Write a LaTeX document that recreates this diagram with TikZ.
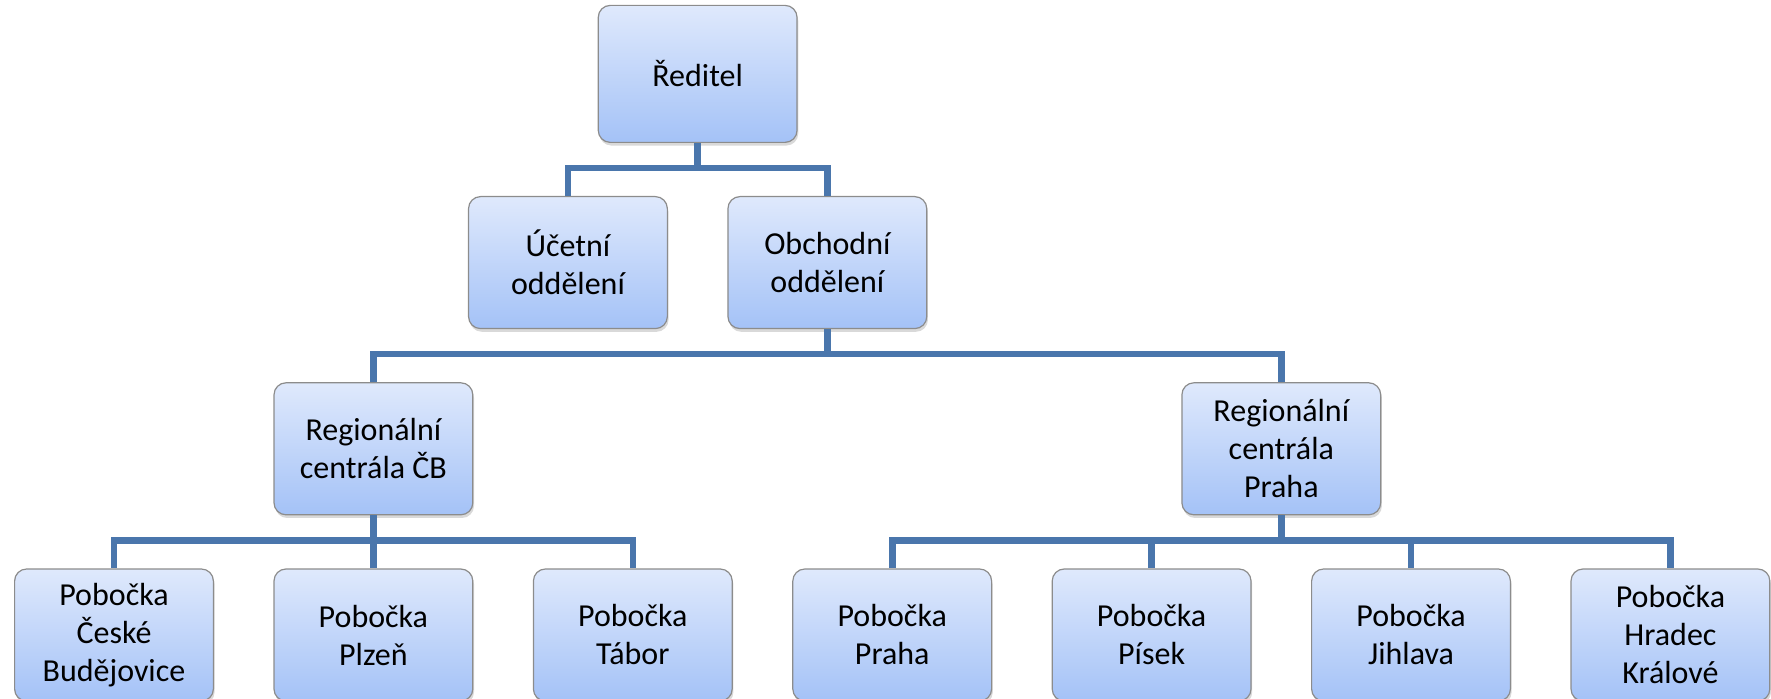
\documentclass[tikz,border=0pt]{standalone}
\usepackage{fontspec}
\setmainfont{Carlito}
\usetikzlibrary{positioning, shadows, calc}
\definecolor{linkblue}{HTML}{4A76AC}
\definecolor{boxtop}{HTML}{DFE9FC}
\definecolor{boxbot}{HTML}{A4C2F7}

\begin{document}
\begin{tikzpicture}[
node distance=26.5pt and 29.7pt,
font=\fontsize{16}{19}\selectfont,
unit/.style={rectangle, draw=black!45, line width=0.6pt, rounded corners=6pt, minimum width=99.4pt, minimum height=66pt, align=center, top color=boxtop, bottom color=boxbot, drop shadow={shadow xshift=0.6pt, shadow yshift=-1.6pt, opacity=0.3}},
link/.style={draw=linkblue, line width=3.3pt}
]
\useasboundingbox (0,0) rectangle (885.5pt,-349.5pt);

% branches
\node[unit] (b1) at (57pt,-317.5pt) {Pobočka\\České\\Budějovice};
\node[unit, right=of b1] (b2) {Pobočka\\Plzeň};
\node[unit, right=of b2] (b3) {Pobočka\\Tábor};
\node[unit, right=of b3] (b4) {Pobočka\\Praha};
\node[unit, right=of b4] (b5) {Pobočka\\Písek};
\node[unit, right=of b5] (b6) {Pobočka\\Jihlava};
\node[unit, right=of b6] (b7) {Pobočka\\Hradec\\Králové};

% regional centres
\node[unit, above=of b2] (rcb) {Regionální\\centrála ČB};
\node[unit, above=of {$(b4.north)!.5!(b7.north)$}] (rpr) {Regionální\\centrála\\Praha};

% departments
\node[unit, above=of {$(rcb.north)!.5!(rpr.north)$}] (ob) {Obchodní\\oddělení};
\node[unit, left=of ob] (uc) {Účetní\\oddělení};
\node[unit, minimum height=68.5pt, above=of {$(uc.north)!.5!(ob.north)$}] (dir) {Ředitel};

\foreach \c in {uc,ob} \draw[link] (dir.south) -- ++(0,-12.5pt) -| (\c.north);
\foreach \c in {rcb,rpr} \draw[link] (ob.south) -- ++(0,-12.5pt) -| (\c.north);
\foreach \c in {b1,b2,b3} \draw[link] (rcb.south) -- ++(0,-12.5pt) -| (\c.north);
\foreach \c in {b4,b5,b6,b7} \draw[link] (rpr.south) -- ++(0,-12.5pt) -| (\c.north);

\end{tikzpicture}
\end{document}
